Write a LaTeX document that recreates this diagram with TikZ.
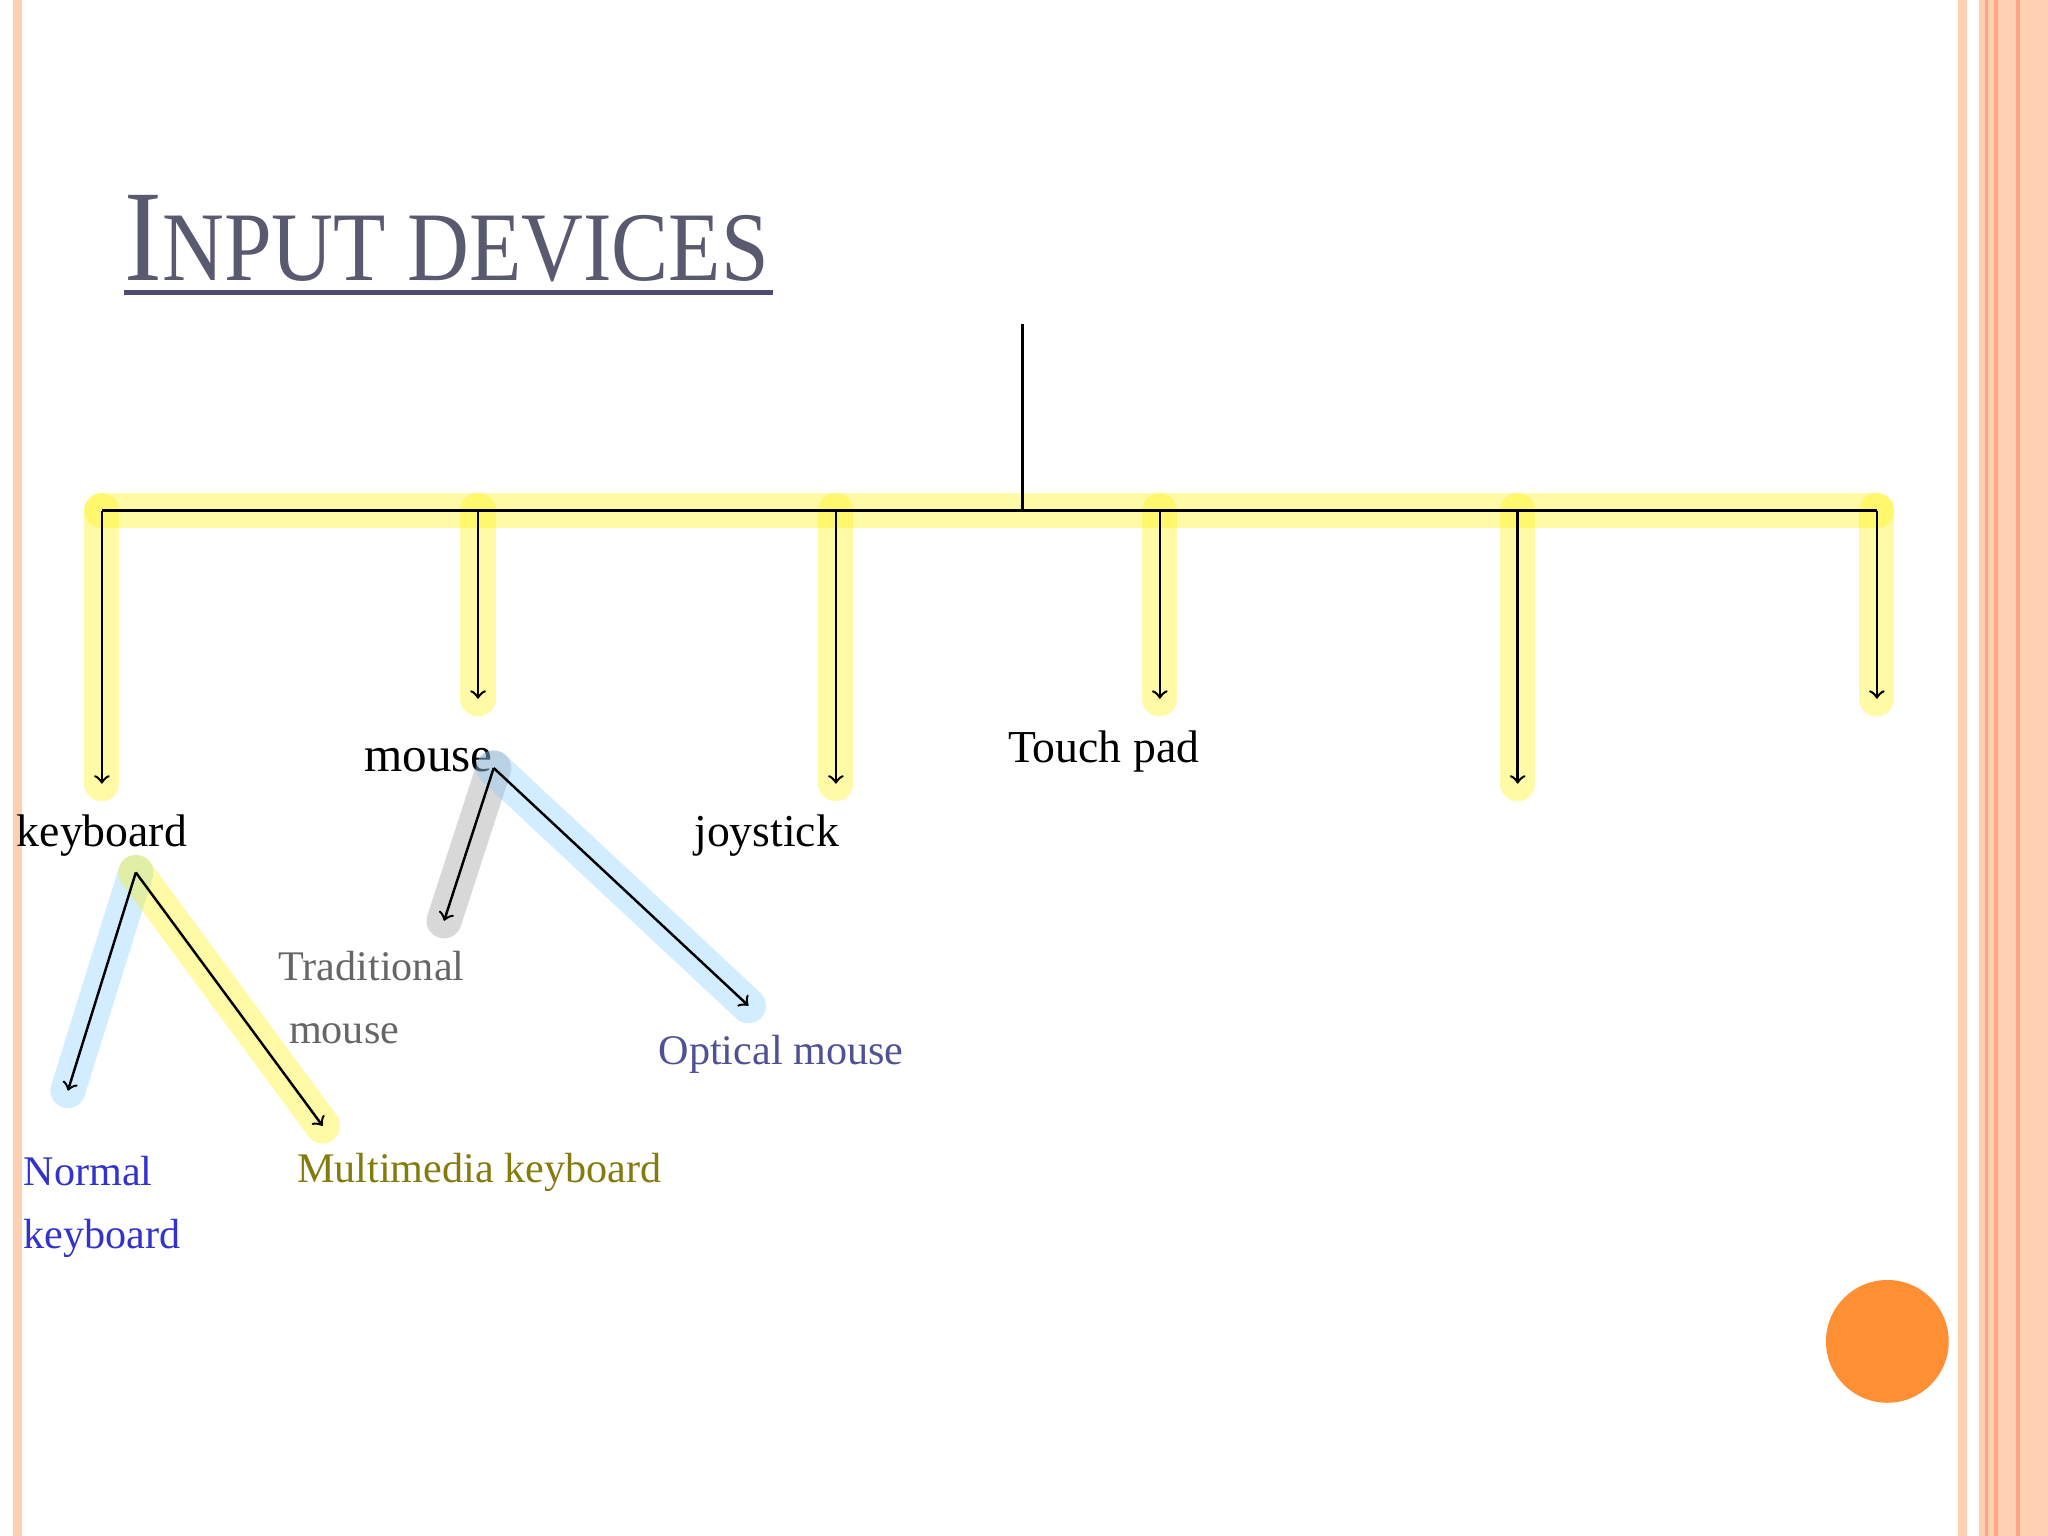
\documentclass[tikz,border=0pt]{standalone}
\usepackage{fontspec}
\setmainfont{Liberation Serif}
\begin{document}
\begin{tikzpicture}[x=0.013061cm,y=-0.013061cm,
  ln/.style={black,line width=0.7pt},
  arr/.style={ln,->},
  glowY/.style={yellow,line width=10pt,opacity=0.35,line cap=round},
  glowB/.style={blue!40!cyan!50,line width=10pt,opacity=0.35,line cap=round},
  glowG/.style={gray,line width=10pt,opacity=0.3,line cap=round},
  lbl/.style={font=\fontsize{13}{15}\selectfont,inner sep=1pt}]
\useasboundingbox (0,0) rectangle (1568,1176);
\fill[white] (0,0) rectangle (1568,1176);
% borders
\fill[red!25!orange!30] (10,0) rectangle (17,1176);
\fill[red!25!orange!30] (1499,0) rectangle (1506,1176);
\fill[red!20!orange!30] (1515,0) rectangle (1568,1176);
\draw[red!40!orange!50,line width=1pt] (1521,0)--(1521,1176) (1528,0)--(1528,1176) (1545,0)--(1545,1176);
% title
\node[anchor=base west,inner sep=0pt,text=black!70!blue!30!gray] (title) at (95,215)
  {\scalebox{0.87}[1]{\fontsize{37}{40}\selectfont I\fontsize{28}{30}\selectfont NPUT DEVICES}};
\draw[black!60!blue!40!gray,line width=1.5pt] (95,224)--(592,224);
% tree
\coordinate (top) at (783,248);
\coordinate (jn) at (783,391);
\coordinate (L) at (78,391);
\coordinate (R) at (1437,391);
\draw[glowY] (L)--(R);
\foreach \x/\y in {78/600,366/535,640/600,888/535,1162/600,1437/535}{
  \draw[glowY] (\x,391)--(\x,\y);
}
\draw[ln] (top)--(jn);
\draw[ln] (L)--(R);
\foreach \x/\y in {78/600,366/535,640/600,888/535,1162/600,1437/535}{
  \draw[arr] (\x,391)--(\x,\y);
}
\node[lbl] (kb) at (78,640) {keyboard};
\node[lbl,font=\fontsize{14}{16}\selectfont] (ms) at (328,582) {mouse};
\node[lbl] (js) at (587,640) {joystick};
\node[lbl] (tp) at (845,575) {Touch pad};
\coordinate (kbo) at (104,668);
\coordinate (mso) at (378,588);
\coordinate (nk) at (52,835);
\coordinate (mk) at (247,862);
\coordinate (tm) at (340,705);
\coordinate (om) at (573,770);
\draw[glowB] (kbo)--(nk);
\draw[glowY] (kbo)--(mk);
\draw[glowG] (mso)--(tm);
\draw[glowB] (mso)--(om);
\draw[arr] (kbo)--(nk);
\draw[arr] (kbo)--(mk);
\draw[arr] (mso)--(tm);
\draw[arr] (mso)--(om);
\node[lbl,text=gray!80!black,align=left,anchor=north west,font=\fontsize{12}{18}\selectfont] (tmt) at (210,725) {Traditional\\\ mouse};
\node[lbl,text=blue!30!gray!90!black,font=\fontsize{12}{14}\selectfont] (omt) at (598,807) {Optical mouse};
\node[lbl,text=blue!60!gray,align=left,anchor=north west,font=\fontsize{12}{18}\selectfont] (nkt) at (15,882) {Normal\\keyboard};
\node[lbl,text=olive!90!black,font=\fontsize{12}{14}\selectfont] (mkt) at (367,898) {Multimedia keyboard};
\fill[orange!90!red!80] (1445,1027) circle (47);
\end{tikzpicture}
\end{document}
